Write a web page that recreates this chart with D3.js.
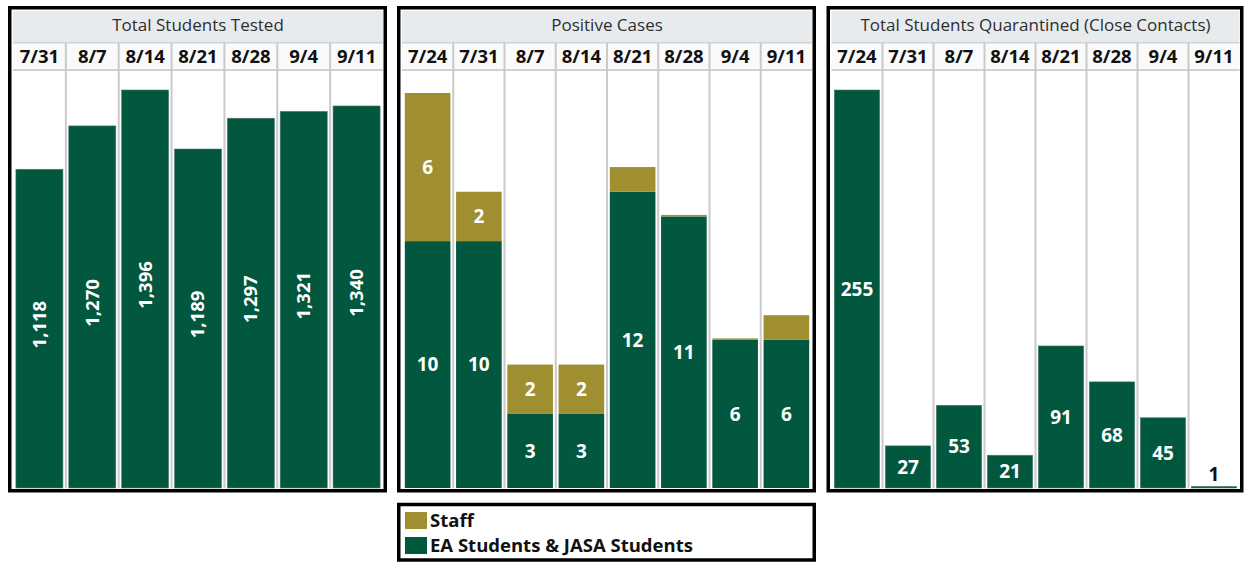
<!DOCTYPE html>
<html>
<head>
<meta charset="utf-8">
<script src="https://cdn.jsdelivr.net/npm/d3@7"></script>
<style>
  body { margin: 0; background: #fff; }
  svg { display: block; font-family: "Open Sans", "Noto Sans", sans-serif; }
</style>
</head>
<body>
<svg id="chart" width="1244" height="562"></svg>
<script>
// data
const testedDates = ["7/31", "8/7", "8/14", "8/21", "8/28", "9/4", "9/11"];
const testedValues = [1118, 1270, 1396, 1189, 1297, 1321, 1340];

const caseDates = ["7/24", "7/31", "8/7", "8/14", "8/21", "8/28", "9/4", "9/11"];
const studentCases = [10, 10, 3, 3, 12, 11, 6, 6];
const staffCases = [6, 2, 2, 2, 1, 0, 0, 1];

const quarantineDates = ["7/24", "7/31", "8/7", "8/14", "8/21", "8/28", "9/4", "9/11"];
const quarantineValues = [255, 27, 53, 21, 91, 68, 45, 1];

const legendLabels = ["Staff", "EA Students & JASA Students"];

const GREEN = "#02573f", GOLD = "#a08f31";
const svg = d3.select("#chart");
const fmt = d3.format(",");

// panel frame + header, returns x band scale and plot group
function drawPanel(box, title, dates) {
    const g = svg.append("g");
    const inner = { x0: box.x0 + 5, x1: box.x1 - 4 };
    const top = 11, plotTop = 70, plotBottom = 488;

    g.append("rect").attr("x", inner.x0).attr("y", top).attr("width", inner.x1 - inner.x0).attr("height", 30).attr("fill", "#e8ebee");
    g.append("text").attr("x", (inner.x0 + inner.x1) / 2).attr("y", 25.5).attr("dy", "0.35em")
        .attr("text-anchor", "middle").attr("font-size", 17).attr("fill", "#2e2e2e").text(title);

    const x = d3.scaleBand().domain(dates).range([inner.x0, inner.x1]).paddingInner(0.11).paddingOuter(0.055);
    const step = x.step();

    g.append("rect").attr("x", inner.x0).attr("y", 43).attr("width", inner.x1 - inner.x0).attr("height", plotTop - 43).attr("fill", "#fafafa");
    g.append("line").attr("x1", inner.x0).attr("x2", inner.x1).attr("y1", 42.5).attr("y2", 42.5).attr("stroke", "#d2d2d2").attr("stroke-width", 2);
    g.append("line").attr("x1", inner.x0).attr("x2", inner.x1).attr("y1", plotTop).attr("y2", plotTop).attr("stroke", "#d2d2d2").attr("stroke-width", 2);

    g.selectAll(".divider").data(dates.slice(1)).join("line")
        .attr("x1", (d, i) => inner.x0 + (i + 1) * step).attr("x2", (d, i) => inner.x0 + (i + 1) * step)
        .attr("y1", 43).attr("y2", plotBottom).attr("stroke", "#cacaca").attr("stroke-width", 2);

    g.selectAll(".date").data(dates).join("text")
        .attr("x", d => x(d) + x.bandwidth() / 2).attr("y", 57).attr("dy", "0.35em")
        .attr("text-anchor", "middle").attr("font-size", 18.5).attr("font-weight", 700).attr("fill", "#111").text(d => d);

    const plot = svg.append("g");
    const w = box.x1 - box.x0 - 3.5, h = 492.5 - 6 - 3.5;
    svg.append("rect").attr("x", box.x0 + 1.75).attr("y", 7.75).attr("width", w).attr("height", h)
        .attr("fill", "none").attr("stroke", "#000").attr("stroke-width", 3.5);
    return { x, plot, plotTop, plotBottom };
}

// Total Students Tested
(function() {
    const { x, plot, plotBottom } = drawPanel({ x0: 8, x1: 387 }, "Total Students Tested", testedDates);
    const y = d3.scaleLinear().domain([0, d3.max(testedValues)]).range([plotBottom, 90]);
    const rows = testedDates.map((d, i) => ({ date: d, value: testedValues[i] }));
    plot.selectAll("rect").data(rows).join("rect")
        .attr("x", d => x(d.date)).attr("width", x.bandwidth())
        .attr("y", d => y(d.value)).attr("height", d => y(0) - y(d.value))
        .attr("fill", GREEN).attr("stroke", "#4f7f70").attr("stroke-width", 0.6);
    plot.selectAll("text").data(rows).join("text")
        .attr("transform", d => `translate(${x(d.date) + x.bandwidth() / 2},${(y(d.value) + y(0)) / 2 - 4}) rotate(-90)`)
        .attr("dy", "0.35em").attr("text-anchor", "middle")
        .attr("font-size", 18.5).attr("font-weight", 700).attr("fill", "#fff").text(d => fmt(d.value));
})();

// Positive Cases (stacked)
(function() {
    const { x, plot, plotBottom } = drawPanel({ x0: 397, x1: 816 }, "Positive Cases", caseDates);
    const rows = caseDates.map((d, i) => ({ date: d, students: studentCases[i], staff: staffCases[i] }));
    const y = d3.scaleLinear().domain([0, d3.max(rows, d => d.students + d.staff)]).range([plotBottom, 93]);
    const series = d3.stack().keys(["students", "staff"])(rows);
    const colors = { students: GREEN, staff: GOLD };

    series.forEach(s => {
        plot.append("g").selectAll("rect").data(s).join("rect")
            .attr("x", d => x(d.data.date)).attr("width", x.bandwidth())
            .attr("y", d => Math.min(y(d[1]), y(d[0]) - 1.5))
            .attr("height", d => Math.max(y(d[0]) - y(d[1]), 1.5))
            .attr("fill", colors[s.key]);
        plot.append("g").selectAll("text").data(s.filter(d => y(d[0]) - y(d[1]) > 30)).join("text")
            .attr("x", d => x(d.data.date) + x.bandwidth() / 2).attr("y", d => (y(d[0]) + y(d[1])) / 2)
            .attr("dy", "0.35em").attr("text-anchor", "middle")
            .attr("font-size", 19).attr("font-weight", 700).attr("fill", "#fff").text(d => d[1] - d[0]);
    });
})();

// Total Students Quarantined
(function() {
    const { x, plot, plotBottom } = drawPanel({ x0: 826.5, x1: 1243.5 }, "Total Students Quarantined (Close Contacts)", quarantineDates);
    const y = d3.scaleLinear().domain([0, d3.max(quarantineValues)]).range([plotBottom, 90]);
    const rows = quarantineDates.map((d, i) => ({ date: d, value: quarantineValues[i] }));
    plot.selectAll("rect").data(rows).join("rect")
        .attr("x", d => x(d.date)).attr("width", x.bandwidth())
        .attr("y", d => y(d.value)).attr("height", d => y(0) - y(d.value))
        .attr("fill", GREEN).attr("stroke", "#4f7f70").attr("stroke-width", 0.6);
    plot.selectAll("text").data(rows).join("text")
        .attr("x", d => x(d.date) + x.bandwidth() / 2)
        .attr("y", d => y(0) - y(d.value) > 24 ? (y(d.value) + y(0)) / 2 : y(d.value) - 12)
        .attr("dy", "0.35em").attr("text-anchor", "middle")
        .attr("font-size", 19).attr("font-weight", 700)
        .attr("fill", d => y(0) - y(d.value) > 24 ? "#fff" : "#111").text(d => d.value);
})();

// legend
const lg = svg.append("g");
lg.append("rect").attr("x", 398.75).attr("y", 504.5).attr("width", 415.5).attr("height", 55.5)
    .attr("fill", "#fff").attr("stroke", "#000").attr("stroke-width", 3.5);
lg.selectAll(".sw").data(legendLabels).join("rect")
    .attr("x", 405).attr("y", (d, i) => 512 + i * 25).attr("width", 22).attr("height", 17)
    .attr("fill", (d, i) => i === 0 ? GOLD : GREEN);
lg.selectAll("text").data(legendLabels).join("text")
    .attr("x", 430).attr("y", (d, i) => 521 + i * 25).attr("dy", "0.35em")
    .attr("font-size", 18.5).attr("font-weight", 700).attr("fill", "#111").text(d => d);
</script>
</body>
</html>
